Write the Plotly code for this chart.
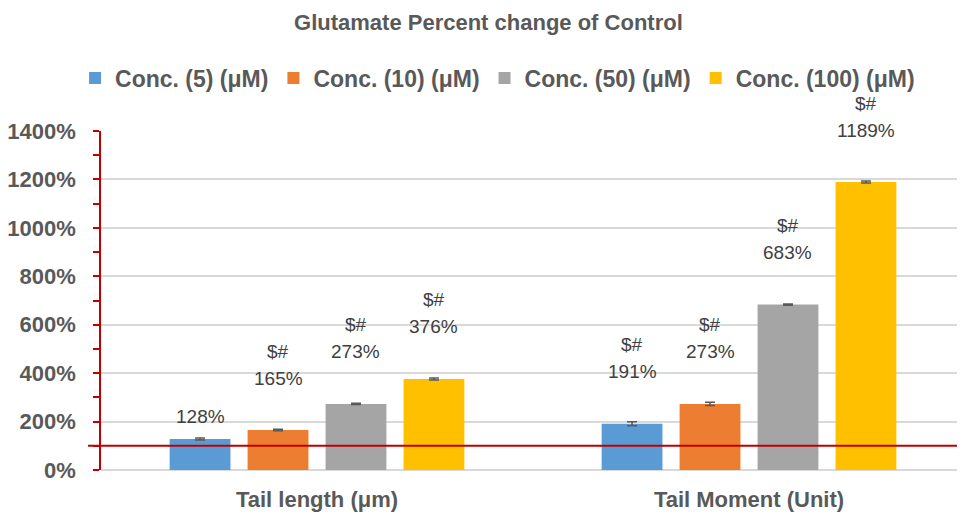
import plotly.graph_objects as go

categories = ['Tail length (μm)', 'Tail Moment (Unit)']
series_names = ['Conc. (5) (μM)', 'Conc. (10) (μM)', 'Conc. (50) (μM)', 'Conc. (100) (μM)']
conc_5 = [128, 191]
conc_10 = [165, 273]
conc_50 = [273, 683]
conc_100 = [376, 1189]
err_5 = [4, 8]
err_10 = [3, 7]
err_50 = [3, 3]
err_100 = [4, 4]
sig_5 = ['', '$#']
sig_10 = ['$#', '$#']
sig_50 = ['$#', '$#']
sig_100 = ['$#', '$#']
y_ticks = [0, 200, 400, 600, 800, 1000, 1200, 1400]
y_tick_labels = ['0%', '200%', '400%', '600%', '800%', '1000%', '1200%', '1400%']

COLORS = ['#5B9BD5', '#ED7D31', '#A5A5A5', '#FFC000']
TEXT = '#595959'
RED = '#C00000'
FONT = 'Liberation Sans, Arial, sans-serif'

values = [conc_5, conc_10, conc_50, conc_100]
errors = [err_5, err_10, err_50, err_100]
sigs = [sig_5, sig_10, sig_50, sig_100]

BARGAP = 0.278
GROUPGAP = 0.22
# the page body has an 8px margin, so the figure is drawn 8px smaller
W, H = 957, 507

fig = go.Figure()
for name, vals, errs, color in zip(series_names, values, errors, COLORS):
    fig.add_trace(go.Bar(
        x=categories, y=vals, name=name,
        marker=dict(color=color, line=dict(width=0)),
        error_y=dict(type='data', array=errs, color='#595959', thickness=1.5, width=5),
    ))

# value labels above bars (numeric positions on the category axis)
n = len(values)
slot = (1 - BARGAP) / n
annotations = []
for i, (vals, sg) in enumerate(zip(values, sigs)):
    offset = -(1 - BARGAP) / 2 + slot * (i + 0.5)
    for j, v in enumerate(vals):
        has_sig = sg[j] != ''
        annotations.append(dict(
            x=j + offset, y=v, xref='x', yref='y', text=f'{v}%',
            showarrow=False, yanchor='middle', yshift=52 if has_sig else 23,
            font=dict(family=FONT, size=19, color='#404040'),
        ))
        if has_sig:
            annotations.append(dict(
                x=j + offset, y=v, xref='x', yref='y', text=sg[j],
                showarrow=False, yanchor='middle', yshift=79,
                font=dict(family=FONT, size=19, color='#404040'),
            ))

fig.update_layout(
    width=W, height=H,
    margin=dict(l=93, r=0, t=123, b=45),
    paper_bgcolor='white', plot_bgcolor='white',
    barmode='group', bargap=BARGAP, bargroupgap=GROUPGAP,
    title=dict(text='<b>Glutamate Percent change of Control</b>', x=0.502, xanchor='center',
               y=1 - 14 / H, yanchor='middle',
               font=dict(family=FONT, size=22, color=TEXT)),
    legend=dict(orientation='h', x=0.459, xanchor='center', y=1.156, yanchor='middle',
                font=dict(family=FONT, size=23, color=TEXT, weight='bold'),
                itemwidth=30, traceorder='normal'),
    font=dict(family=FONT, color=TEXT),
    xaxis=dict(type='category', showgrid=False, showline=False, ticks='',
               tickfont=dict(family=FONT, size=22, color=TEXT, weight='bold'),
               ticklabelstandoff=14),
    yaxis=dict(range=[0, 1400], tickvals=y_ticks, ticktext=y_tick_labels,
               showgrid=True, gridcolor='#D9D9D9', gridwidth=2,
               zeroline=True, zerolinecolor='#D9D9D9', zerolinewidth=2,
               showline=True, linecolor=RED, linewidth=1.5,
               ticks='outside', tickcolor=RED, ticklen=6, tickwidth=1.5,
               minor=dict(dtick=100, ticks='outside', tickcolor=RED, ticklen=6, tickwidth=1.5, showgrid=False),
               tickfont=dict(family=FONT, size=22, color=TEXT, weight='bold'),
               ticklabelstandoff=13),
    annotations=annotations,
    shapes=[dict(type='line', xref='paper', yref='y', x0=-0.015, x1=1, y0=100, y1=100,
                 line=dict(color=RED, width=2))],
)

fig.write_html("out.html")
